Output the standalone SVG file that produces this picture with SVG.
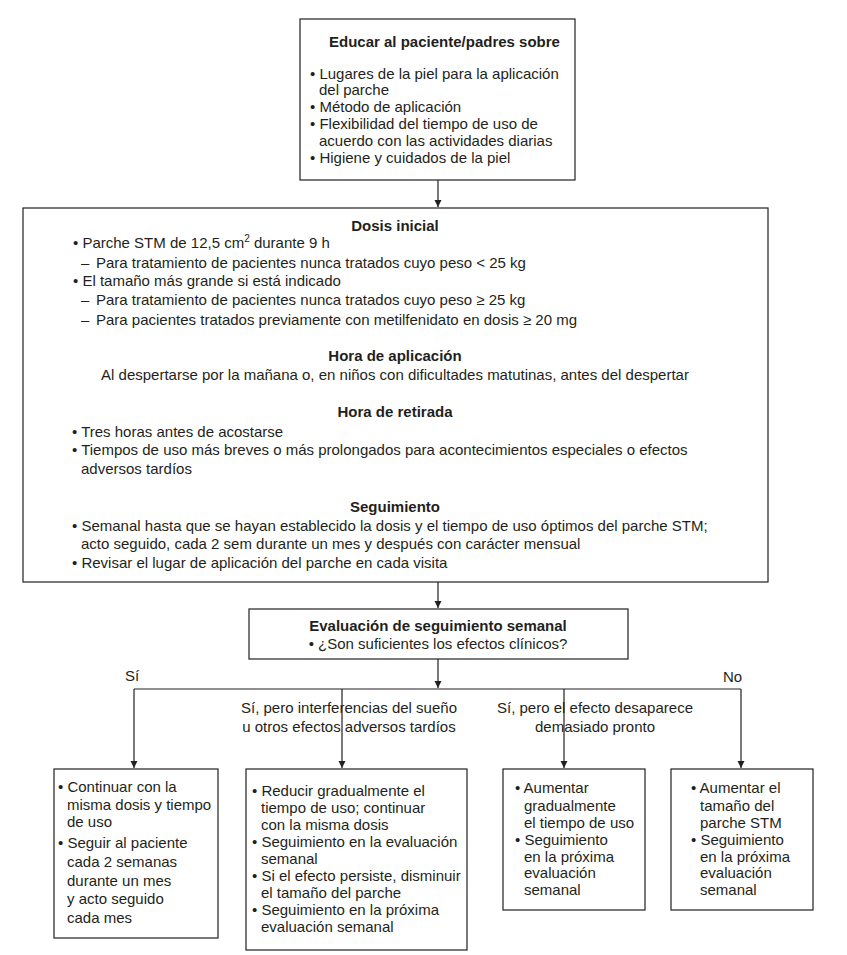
<svg xmlns="http://www.w3.org/2000/svg" width="847" height="955" viewBox="0 0 847 955">
<defs>
<marker id="ah" viewBox="0 0 10 10" refX="10" refY="5" markerWidth="7" markerHeight="8" markerUnits="userSpaceOnUse" orient="auto"><path d="M0,0 L10,5 L0,10 z" fill="#231f20"/></marker>
<style>
text{font-family:"Liberation Sans",Arial,sans-serif;font-size:15px;fill:#231f20}
.b{font-weight:bold}
.c{text-anchor:middle}
rect{fill:#fff;stroke:#231f20;stroke-width:1.2}
.ln{fill:none;stroke:#231f20;stroke-width:1.2}
</style>
</defs>
<rect x="0" y="0" width="847" height="955" style="stroke:none"/>
<g id="connectors">
<line class="ln" x1="438" y1="180" x2="438" y2="207" marker-end="url(#ah)"/>
<line class="ln" x1="438" y1="582" x2="438" y2="608" marker-end="url(#ah)"/>
<line class="ln" x1="438" y1="659" x2="438" y2="688" marker-end="url(#ah)"/>
<line class="ln" x1="134" y1="689" x2="741" y2="689"/>
<line class="ln" x1="134" y1="689" x2="134" y2="768" marker-end="url(#ah)"/>
<line class="ln" x1="342" y1="689" x2="342" y2="768" marker-end="url(#ah)"/>
<line class="ln" x1="564" y1="689" x2="564" y2="768" marker-end="url(#ah)"/>
<line class="ln" x1="741" y1="689" x2="741" y2="768" marker-end="url(#ah)"/>
<text x="125" y="681">Sí</text>
<text x="723" y="682">No</text>
<text class="c" x="349" y="713">Sí, pero interferencias del sueño</text>
<text class="c" x="349" y="732">u otros efectos adversos tardíos</text>
<text class="c" x="595" y="713">Sí, pero el efecto desaparece</text>
<text class="c" x="595" y="732">demasiado pronto</text>
</g>
<g id="educar">
<rect x="300" y="19" width="275" height="161"/>
<text class="b" x="329" y="47">Educar al paciente/padres sobre</text>
<text x="310" y="79">• Lugares de la piel para la aplicación</text>
<text x="319" y="95">del parche</text>
<text x="310" y="112">• Método de aplicación</text>
<text x="310" y="129">• Flexibilidad del tiempo de uso de</text>
<text x="319" y="146">acuerdo con las actividades diarias</text>
<text x="310" y="163">• Higiene y cuidados de la piel</text>
</g>
<g id="dosis">
<rect x="23" y="208" width="745" height="374"/>
<text class="b c" x="395" y="231">Dosis inicial</text>
<text x="73" y="248">• Parche STM de 12,5 cm<tspan dy="-6" font-size="10">2</tspan><tspan dy="6"> durante 9 h</tspan></text>
<text x="81" y="268">–<tspan x="96">Para tratamiento de pacientes nunca tratados cuyo peso &lt; 25 kg</tspan></text>
<text x="73" y="286">• El tamaño más grande si está indicado</text>
<text x="81" y="305">–<tspan x="96">Para tratamiento de pacientes nunca tratados cuyo peso ≥ 25 kg</tspan></text>
<text x="81" y="325">–<tspan x="96">Para pacientes tratados previamente con metilfenidato en dosis ≥ 20 mg</tspan></text>
<text class="b c" x="395" y="361">Hora de aplicación</text>
<text class="c" x="395" y="380">Al despertarse por la mañana o, en niños con dificultades matutinas, antes del despertar</text>
<text class="b c" x="395" y="417">Hora de retirada</text>
<text x="72" y="437">• Tres horas antes de acostarse</text>
<text x="72" y="455">• Tiempos de uso más breves o más prolongados para acontecimientos especiales o efectos</text>
<text x="81" y="474">adversos tardíos</text>
<text class="b c" x="395" y="512">Seguimiento</text>
<text x="72" y="531">• Semanal hasta que se hayan establecido la dosis y el tiempo de uso óptimos del parche STM;</text>
<text x="81" y="549">acto seguido, cada 2 sem durante un mes y después con carácter mensual</text>
<text x="72" y="568">• Revisar el lugar de aplicación del parche en cada visita</text>
</g>
<g id="evaluacion">
<rect x="249" y="609" width="379" height="50"/>
<text class="b c" x="438" y="631">Evaluación de seguimiento semanal</text>
<text class="c" x="438" y="649">• ¿Son suficientes los efectos clínicos?</text>
</g>
<g id="continuar">
<rect x="54" y="769" width="164" height="169"/>
<text x="58" y="792">• Continuar con la</text>
<text x="67" y="810">misma dosis y tiempo</text>
<text x="67" y="827">de uso</text>
<text x="58" y="848">• Seguir al paciente</text>
<text x="67" y="867">cada 2 semanas</text>
<text x="67" y="886">durante un mes</text>
<text x="67" y="904">y acto seguido</text>
<text x="67" y="923">cada mes</text>
</g>
<g id="reducir">
<rect x="246" y="769" width="221" height="181"/>
<text x="252" y="796">• Reducir gradualmente el</text>
<text x="261" y="813">tiempo de uso; continuar</text>
<text x="261" y="830">con la misma dosis</text>
<text x="252" y="847">• Seguimiento en la evaluación</text>
<text x="261" y="864">semanal</text>
<text x="252" y="881">• Si el efecto persiste, disminuir</text>
<text x="261" y="898">el tamaño del parche</text>
<text x="252" y="915">• Seguimiento en la próxima</text>
<text x="261" y="932">evaluación semanal</text>
</g>
<g id="aumentar-tiempo">
<rect x="503" y="769" width="142" height="141"/>
<text x="515" y="793">• Aumentar</text>
<text x="524" y="811">gradualmente</text>
<text x="524" y="828">el tiempo de uso</text>
<text x="515" y="845">• Seguimiento</text>
<text x="524" y="862">en la próxima</text>
<text x="524" y="878">evaluación</text>
<text x="524" y="895">semanal</text>
</g>
<g id="aumentar-tamano">
<rect x="671" y="769" width="142" height="141"/>
<text x="691" y="793">• Aumentar el</text>
<text x="700" y="811">tamaño del</text>
<text x="700" y="828">parche STM</text>
<text x="691" y="845">• Seguimiento</text>
<text x="700" y="862">en la próxima</text>
<text x="700" y="878">evaluación</text>
<text x="700" y="895">semanal</text>
</g>
</svg>
